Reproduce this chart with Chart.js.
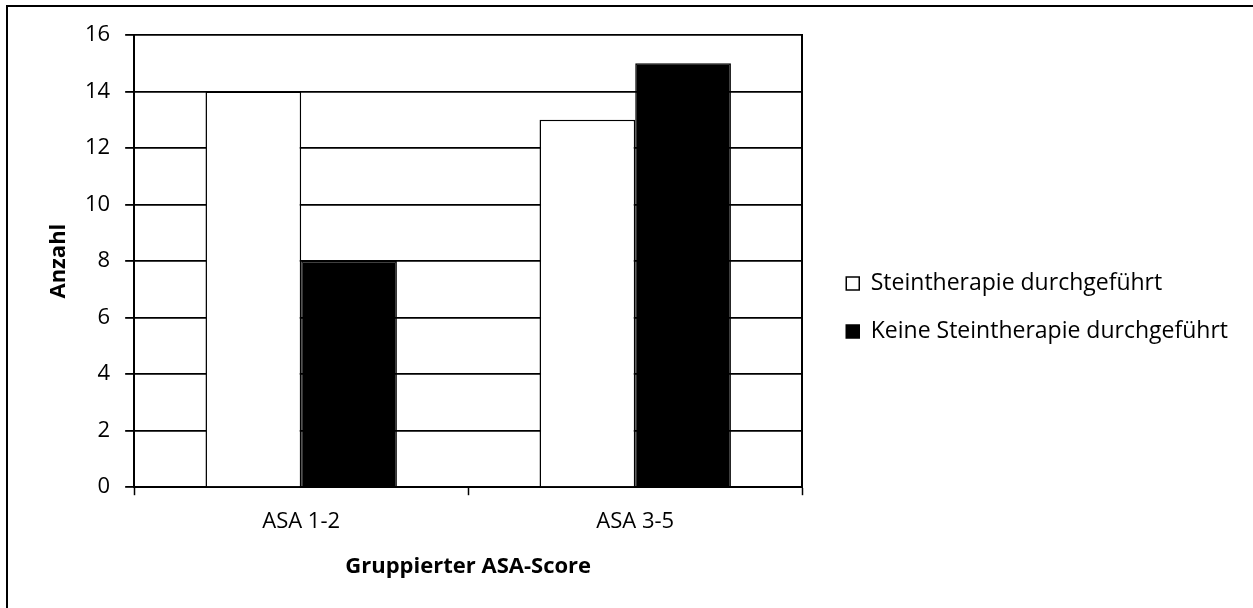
<!DOCTYPE html>
<html>
<head>
<meta charset="utf-8">
<script src="https://cdn.jsdelivr.net/npm/chart.js@4.4.0/dist/chart.umd.min.js"></script>
<style>
  body { margin: 0; background: #fff; }
  #wrap { position: relative; width: 1253px; height: 608px; overflow: hidden; }
  #frame { position: absolute; left: 6px; top: 5px; width: 1300px; height: 700px;
           border-left: 2px solid #000; border-top: 2px solid #000; pointer-events: none; }
  canvas { position: absolute; left: 0; top: 0; }
</style>
</head>
<body>
<div id="wrap">
  <canvas id="myChart" width="1253" height="608"></canvas>
  <div id="frame"></div>
</div>
<script>
const categories = ["ASA 1-2", "ASA 3-5"];
const steintherapie = [14, 13];
const keineSteintherapie = [8, 15];
const seriesNames = ["Steintherapie durchgeführt", "Keine Steintherapie durchgeführt"];
const yMin = 0, yMax = 16, yStep = 2;

const font = "'Open Sans', sans-serif";

var ctx = document.getElementById("myChart").getContext("2d");
var myChart = new Chart(ctx, {
  type: "bar",
  data: {
    labels: categories,
    datasets: [
      {
        label: seriesNames[0],
        data: steintherapie,
        backgroundColor: "#ffffff",
        borderColor: "#000000",
        borderWidth: 1.5,
      },
      {
        label: seriesNames[1],
        data: keineSteintherapie,
        backgroundColor: "#000000",
        borderColor: "#000000",
        borderWidth: 1.5,
      },
    ],
  },
  options: {
    responsive: false,
    animation: false,
    devicePixelRatio: 1,
    layout: { padding: { left: 41, top: 35, right: 15, bottom: 28 } },
    datasets: { bar: { categoryPercentage: 0.573, barPercentage: 1.0 } },
    plugins: {
      tooltip: { enabled: false },
      legend: {
        position: "right",
        maxWidth: 500,
        labels: {
          color: "#000",
          font: { family: font, size: 23 },
          boxWidth: 13,
          boxHeight: 13,
          padding: 25,
        },
      },
    },
    scales: {
      x: {
        grid: {
          offset: true,
          drawOnChartArea: false,
          drawTicks: true,
          tickLength: 8,
          tickColor: "#000",
          tickWidth: 1.5,
        },
        border: { display: true, color: "#000", width: 2 },
        ticks: { color: "#000", font: { family: font, size: 22 }, padding: 13 },
        title: {
          display: true,
          text: "Gruppierter ASA-Score",
          color: "#000",
          font: { family: font, size: 22, weight: "bold" },
          padding: { top: 6, bottom: 0 },
        },
      },
      y: {
        min: yMin,
        max: yMax,
        ticks: { stepSize: yStep, color: "#000", font: { family: font, size: 22 }, padding: 15 },
        grid: { color: "#000", lineWidth: 1.8, tickLength: 9, tickColor: "#000" },
        border: { display: true, color: "#000", width: 2 },
        title: {
          display: true,
          text: "Anzahl",
          color: "#000",
          font: { family: font, size: 22, weight: "bold", lineHeight: 1 },
          padding: { top: 7, bottom: 0 },
        },
      },
      y2: {
        position: "right",
        min: yMin,
        max: yMax,
        ticks: { display: false },
        grid: { display: false },
        border: { display: true, color: "#000", width: 2 },
        afterFit: (scale) => { scale.width = 19; },
      },
    },
  },
});
</script>
</body>
</html>
